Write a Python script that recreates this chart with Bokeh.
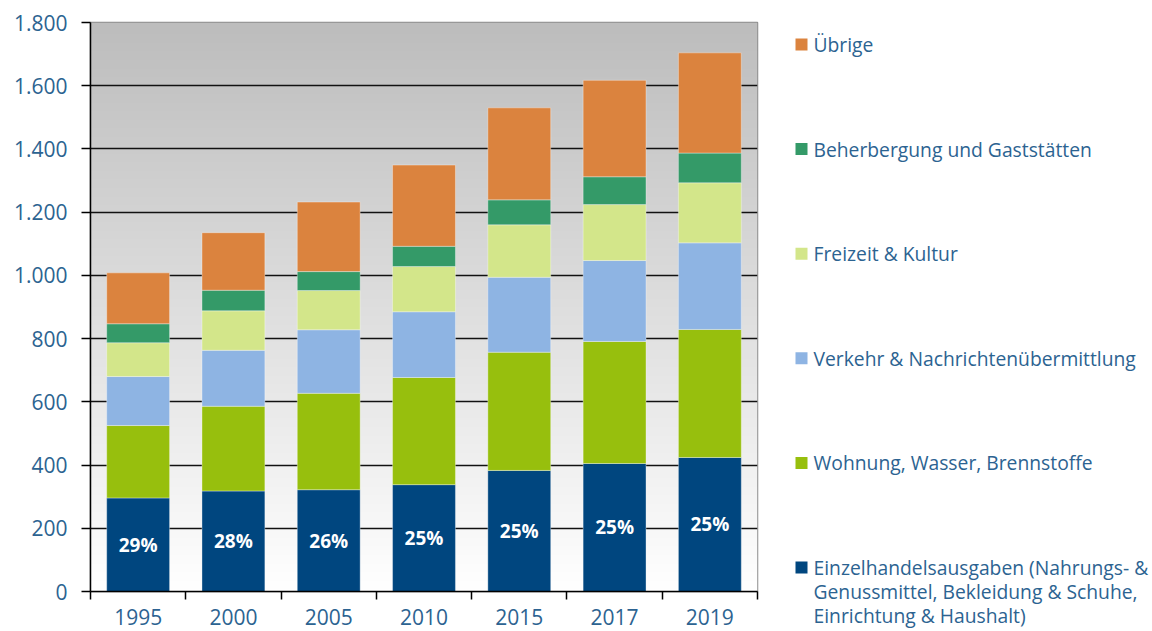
import numpy as np
from bokeh.plotting import figure
from bokeh.models import FixedTicker, Range1d
from bokeh.layouts import row, column
from bokeh.embed import file_html
from bokeh.resources import INLINE
from bokeh.core.properties import value

# ---- data ----
years = ["1995", "2000", "2005", "2010", "2015", "2017", "2019"]
einzel = [296, 318, 322, 338, 383, 405, 424]
wohnung = [229, 268, 305, 339, 374, 386, 405]
verkehr = [155, 177, 201, 208, 237, 256, 274]
freizeit = [107, 125, 124, 143, 166, 177, 190]
beherbergung = [60, 65, 60, 64, 79, 88, 94]
uebrige = [161, 182, 220, 257, 291, 305, 317]
anteil = ["29%", "28%", "26%", "25%", "25%", "25%", "25%"]
y_ticks = [0, 200, 400, 600, 800, 1000, 1200, 1400, 1600, 1800]

series_keys = ["einzel", "wohnung", "verkehr", "freizeit", "beherbergung", "uebrige"]
series_labels = [
    ["Einzelhandelsausgaben (Nahrungs- &", "Genussmittel, Bekleidung & Schuhe,", "Einrichtung & Haushalt)"],
    ["Wohnung, Wasser, Brennstoffe"],
    ["Verkehr & Nachrichtenübermittlung"],
    ["Freizeit & Kultur"],
    ["Beherbergung und Gaststätten"],
    ["Übrige"],
]
series_colors = ["#00467F", "#97BF0D", "#8EB4E3", "#D3E68A", "#349A68", "#DB833E"]

FONT = "Open Sans"
TXT = "#2C6391"

W, H = 1152, 631
MAIN_W = 770
FRAME_TOP, FRAME_BOTTOM = 22, 591

idx = list(range(len(years)))
data = dict(x=idx, einzel=einzel, wohnung=wohnung, verkehr=verkehr,
            freizeit=freizeit, beherbergung=beherbergung, uebrige=uebrige)

p = figure(width=MAIN_W, height=H, x_range=Range1d(-0.5, len(years) - 0.5),
           y_range=Range1d(y_ticks[0], y_ticks[-1]),
           output_backend="svg", toolbar_location=None,
           min_border_left=90, min_border_right=13, min_border_top=FRAME_TOP,
           min_border_bottom=H - FRAME_BOTTOM,
           background_fill_color="white", border_fill_color="white",
           outline_line_color="#8c8c8c", outline_line_width=1.5)

# gradient background (grey at top -> white at bottom)
n = 200
shade = np.linspace(255, 189, n).astype(np.uint32)
img = np.zeros((n, 1), dtype=np.uint32)
img[:, 0] = (255 << 24) | (shade << 16) | (shade << 8) | shade
p.image_rgba(image=[img], x=-0.5, y=y_ticks[0], dw=len(years), dh=y_ticks[-1] - y_ticks[0], level="image")

p.vbar_stack(series_keys, x="x", width=0.66, source=data, color=series_colors,
             line_color="white", line_alpha=0.35, line_width=1)

p.text(x=idx, y=[v / 2 for v in einzel], text=anteil, text_color="white",
       text_font=value(FONT), text_font_style="bold", text_font_size="19px",
       text_align="center", text_baseline="middle")

# axes
xa = p.xaxis[0]
xa.ticker = FixedTicker(ticks=idx, minor_ticks=[i - 0.5 for i in range(len(years) + 1)])
xa.major_label_overrides = {i: y for i, y in zip(idx, years)}
xa.major_tick_out = 0
xa.major_tick_in = 0
xa.minor_tick_out = 8
xa.minor_tick_in = 0
xa.minor_tick_line_color = "black"
xa.minor_tick_line_width = 1.5
xa.axis_line_color = "black"
xa.axis_line_width = 1.5
xa.major_label_standoff = 9
xa.major_label_text_font = FONT
xa.major_label_text_font_size = "21px"
xa.major_label_text_color = TXT

ya = p.yaxis[0]
ya.ticker = FixedTicker(ticks=y_ticks, minor_ticks=[])
ya.major_label_overrides = {t: f"{t:,}".replace(",", ".") for t in y_ticks}
ya.major_tick_out = 9
ya.major_tick_in = 0
ya.major_tick_line_color = "black"
ya.major_tick_line_width = 1.5
ya.axis_line_color = "black"
ya.axis_line_width = 1.5
ya.major_label_standoff = 14
ya.major_label_text_font = FONT
ya.major_label_text_font_size = "21px"
ya.major_label_text_color = TXT

p.xgrid.visible = False
p.ygrid.ticker = FixedTicker(ticks=y_ticks[1:-1])
p.ygrid.grid_line_color = "#111111"
p.ygrid.grid_line_width = 1.6

# legend panel: full-height frame, data units are canvas pixels
lg = figure(width=W - MAIN_W, height=H, x_range=Range1d(0, W - MAIN_W),
            y_range=Range1d(H, 0),
            output_backend="svg", toolbar_location=None, min_border=0,
            x_axis_location=None, y_axis_location=None, outline_line_color=None,
            background_fill_color="white", border_fill_color="white")
lg.grid.visible = False

top_y, step, line_h = 44, 104.6, 24
sq_x, sq_y, sq_c = [], [], []
tx, ty, tt = [], [], []
for k, (lab, col) in enumerate(zip(series_labels[::-1], series_colors[::-1])):
    yc = top_y + k * step
    sq_x.append(31)
    sq_y.append(yc)
    sq_c.append(col)
    for j, line in enumerate(lab):
        tx.append(43)
        ty.append(yc + j * line_h)
        tt.append(line)
lg.scatter(x=sq_x, y=sq_y, marker="square", size=12, fill_color=sq_c, line_color=None)
lg.text(x=tx, y=ty, text=tt, text_color=TXT, text_font=value(FONT),
        text_font_size="19.3px", text_align="left", text_baseline="middle")

layout = row(p, column(lg, spacing=0), spacing=0)
open("out.html", "w").write(file_html(layout, INLINE))
